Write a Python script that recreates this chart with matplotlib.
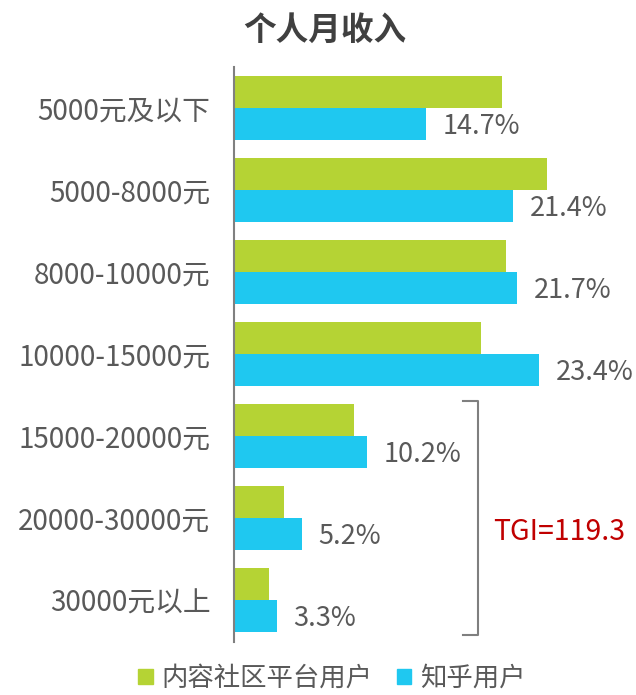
import matplotlib.pyplot as plt
from matplotlib.patches import Patch
import numpy as np

plt.rcParams['font.family'] = ['Noto Sans CJK SC', 'DejaVu Sans']

# data
categories = ['5000元及以下', '5000-8000元', '8000-10000元', '10000-15000元',
              '15000-20000元', '20000-30000元', '30000元以上']
platform_users = [20.5, 24.0, 20.8, 18.9, 9.2, 3.8, 2.7]
zhihu_users = [14.7, 21.4, 21.7, 23.4, 10.2, 5.2, 3.3]
series_names = ['内容社区平台用户', '知乎用户']
tgi_label = 'TGI=119.3'

green = '#b5d334'
blue = '#1fc8f0'
text_gray = '#595959'

fig = plt.figure(figsize=(6.36, 6.95), dpi=100)
ax = fig.add_axes([0.368, 0.0763, 0.6156, 0.8273])

y = np.arange(len(categories))
h = 0.39
ax.barh(y - h / 2, platform_users, height=h, color=green)
ax.barh(y + h / 2, zhihu_users, height=h, color=blue)

# value labels on the Zhihu bars
for yi, v in zip(y, zhihu_users):
    ax.text(v + 1.25, yi + h / 2 + 0.03, f'{v:.1f}%', ha='left', va='center',
            fontsize=19.5, color=text_gray)

ax.set_xlim(0, 30)
ax.set_ylim(6.51, -0.5)
ax.set_yticks(y)
ax.set_yticklabels(categories, fontsize=20, color=text_gray)
ax.tick_params(axis='y', length=0, pad=17)
ax.set_xticks([])
for side in ['top', 'right', 'bottom']:
    ax.spines[side].set_visible(False)
ax.spines['left'].set_color('#808080')
ax.spines['left'].set_linewidth(1.5)

# bracket grouping the three highest income bands
b_top, b_bot = 4 - 0.43, 6 + 0.43
bx, bx0 = 18.7, 17.55
ax.plot([bx0, bx, bx, bx0], [b_top, b_top, b_bot, b_bot], color='#7f7f7f',
        lw=1.5, clip_on=False)
ax.text(bx + 1.15, 5.17, tgi_label, ha='left', va='center', fontsize=20.5,
        color='#c00000')

fig.text(0.511, 0.957, '个人月收入', ha='center', va='center', fontsize=23.5,
         fontweight='bold', color='#404040')

handles = [Patch(color=green), Patch(color=blue)]
leg = fig.legend(handles, series_names, loc='center', bbox_to_anchor=(0.522, 0.024),
                 ncol=2, frameon=False, fontsize=19, handlelength=0.55,
                 handleheight=0.55, handletextpad=0.35, columnspacing=0.9,
                 borderpad=0.1)
for t in leg.get_texts():
    t.set_color(text_gray)

fig.savefig('out.png', dpi=100)
